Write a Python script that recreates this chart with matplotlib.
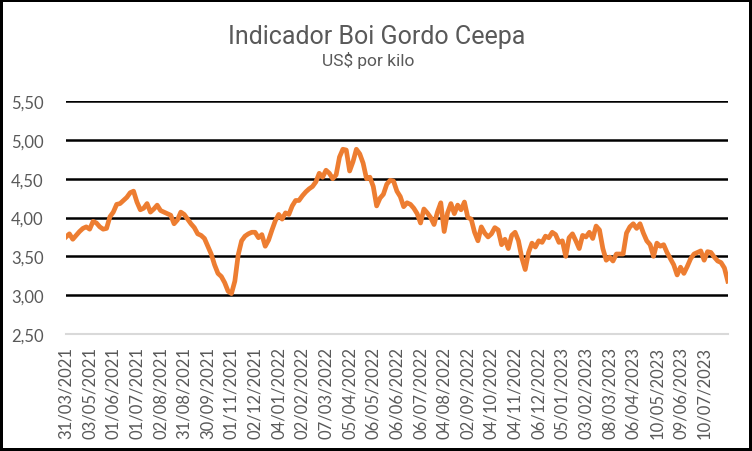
import numpy as np
import matplotlib
matplotlib.use("Agg")
import matplotlib.pyplot as plt
from matplotlib import font_manager

# ---------------------------------------------------------------------------
# DATA  (US$/kg, sampled roughly every 3 trading days)
# ---------------------------------------------------------------------------

date_labels = [
    "31/03/2021", "03/05/2021", "01/06/2021", "01/07/2021", "02/08/2021",
    "31/08/2021", "30/09/2021", "01/11/2021", "02/12/2021", "04/01/2022",
    "02/02/2022", "07/03/2022", "05/04/2022", "06/05/2022", "06/06/2022",
    "06/07/2022", "04/08/2022", "02/09/2022", "04/10/2022", "04/11/2022",
    "06/12/2022", "05/01/2023", "03/02/2023", "08/03/2023", "06/04/2023",
    "10/05/2023", "09/06/2023", "10/07/2023",
]

price_2021 = [
    3.75, 3.79, 3.72, 3.77, 3.82, 3.86, 3.88, 3.85, 3.95, 3.93,
    3.88, 3.85, 3.86, 4.01, 4.07, 4.17, 4.18, 4.22, 4.26, 4.32,
    4.34, 4.20, 4.10, 4.12, 4.18, 4.07, 4.11, 4.16, 4.09, 4.07,
    4.05, 4.03, 3.92, 3.97, 4.07, 4.04, 3.98, 3.92, 3.87, 3.79,
    3.77, 3.73, 3.63, 3.53, 3.39, 3.28, 3.24, 3.16, 3.05, 3.02,
    3.18, 3.52, 3.70, 3.76, 3.79, 3.81, 3.81, 3.74, 3.78, 3.63,
    3.71, 3.84, 3.96, 4.04, 3.98, 4.06,
]
price_2022 = [
    4.04, 4.15, 4.22, 4.22, 4.28, 4.33, 4.37, 4.40, 4.46, 4.57,
    4.52, 4.61, 4.57, 4.50, 4.55, 4.78, 4.88, 4.87, 4.60, 4.72,
    4.88, 4.82, 4.70, 4.50, 4.52, 4.40, 4.15, 4.25, 4.30, 4.43,
    4.48, 4.47, 4.34, 4.27, 4.14, 4.19, 4.17, 4.12, 4.05, 3.93,
    4.11, 4.06, 4.00, 3.91, 4.07, 4.19, 3.82, 4.06, 4.18, 4.05,
    4.16, 4.10, 4.20, 4.00, 3.98, 3.81, 3.70, 3.88, 3.80, 3.75,
    3.79, 3.87, 3.84, 3.65, 3.72, 3.60, 3.77, 3.81, 3.70, 3.48,
    3.33, 3.55, 3.67, 3.62, 3.70, 3.68, 3.76,
]
price_2023 = [
    3.74, 3.81, 3.78, 3.68, 3.70, 3.50, 3.74, 3.79, 3.70, 3.60,
    3.77, 3.75, 3.81, 3.73, 3.89, 3.84, 3.60, 3.45, 3.49, 3.44,
    3.53, 3.53, 3.53, 3.80, 3.88, 3.92, 3.86, 3.92, 3.80, 3.70,
    3.65, 3.50, 3.67, 3.63, 3.65, 3.55, 3.47, 3.39, 3.26, 3.36,
    3.28, 3.37, 3.47, 3.53, 3.55, 3.57, 3.45, 3.56, 3.55, 3.49,
    3.44, 3.42, 3.35, 3.18,
]
prices = price_2021 + price_2022 + price_2023

LABEL_EVERY = 7  # one date label every 7 samples (~21 trading days)

# ---------------------------------------------------------------------------
# STYLE
# ---------------------------------------------------------------------------

ORANGE = "#ED7D31"
TXT    = "#595959"

installed = {f.name for f in font_manager.fontManager.ttflist}
title_font = ["Liberation Sans Narrow", "DejaVu Sans"] if "Liberation Sans Narrow" in installed \
    else ["Roboto", "DejaVu Sans"]
tick_font = ["Lato", "DejaVu Sans"]

# ---------------------------------------------------------------------------
# FIGURE
# ---------------------------------------------------------------------------

fig = plt.figure(figsize=(7.52, 4.52), dpi=100)
fig.patch.set_facecolor("white")
fig.patch.set_edgecolor("black")
fig.patch.set_linewidth(4)

ax = fig.add_axes([0.0878, 0.259, 0.880, 0.515])

x = np.arange(len(prices))
ax.plot(x, prices, color=ORANGE, linewidth=3.4, solid_joinstyle="round", zorder=3)

ax.set_ylim(2.5, 5.5)
ax.set_xlim(0, len(prices) - 1)
yt = np.arange(2.5, 5.51, 0.5)
ax.set_yticks(yt)
ax.set_yticklabels([f"{v:.2f}".replace(".", ",") for v in yt],
                   family=tick_font, fontsize=12, color=TXT)

ticks = np.arange(len(date_labels)) * LABEL_EVERY
ax.set_xticks(ticks)
ax.set_xticklabels(date_labels, rotation=90, family=tick_font,
                   fontsize=12, color=TXT)
ax.tick_params(length=0, pad=9)
ax.tick_params(axis="y", pad=16)

for v in yt[1:]:
    ax.axhline(v, color="black", linewidth=1.8, zorder=1)

for s in ["top", "right", "left"]:
    ax.spines[s].set_visible(False)
ax.spines["bottom"].set_color("#D9D9D9")
ax.spines["bottom"].set_linewidth(1.5)

fig.text(0.501, 0.903, "Indicador Boi Gordo Ceepa", ha="center", va="baseline",
         family=title_font, fontsize=18, color=TXT)
fig.text(0.489, 0.853, "US$ por kilo", ha="center", va="baseline",
         family=title_font, fontsize=12.5, color=TXT)

fig.savefig("out.png", dpi=100, facecolor=fig.get_facecolor(),
            edgecolor=fig.get_edgecolor())
